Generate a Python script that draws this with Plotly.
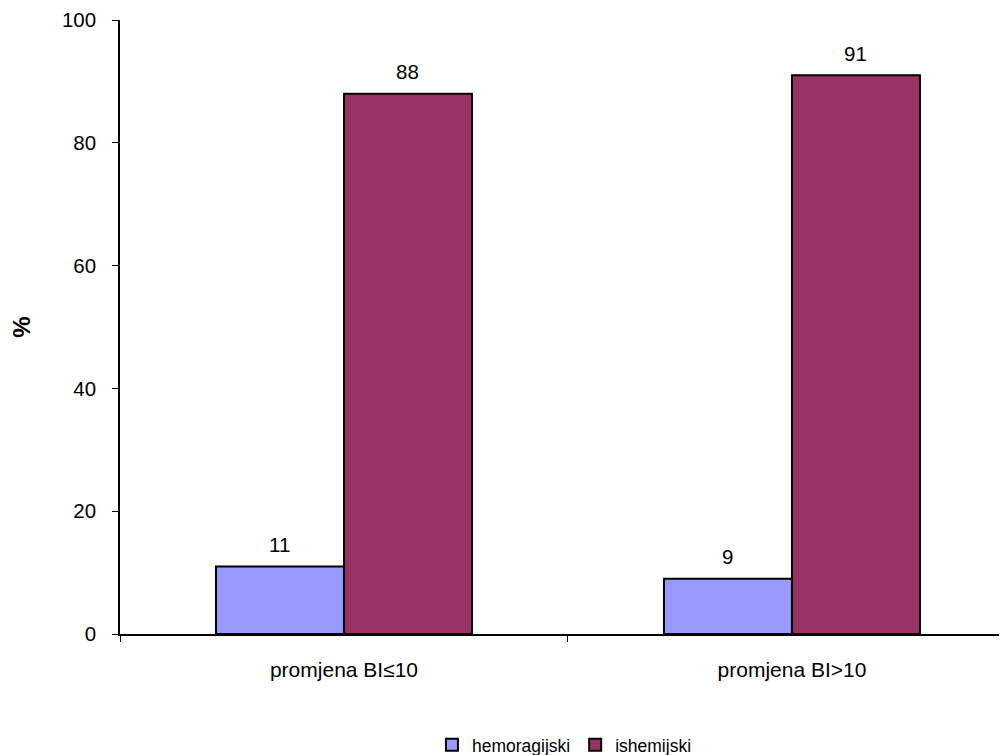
import plotly.graph_objects as go

categories = ["promjena BI≤10", "promjena BI>10"]
hemoragijski = [11, 9]
ishemijski = [88, 91]
y_ticks = [0, 20, 40, 60, 80, 100]

FAM = "Liberation Sans, Arial, sans-serif"
font = dict(family=FAM, size=20.5, color="black")

fig = go.Figure()
fig.add_trace(go.Bar(
    x=categories, y=hemoragijski, name="hemoragijski",
    marker=dict(color="#9999FF", line=dict(color="black", width=2)),
))
fig.add_trace(go.Bar(
    x=categories, y=ishemijski, name="ishemijski",
    marker=dict(color="#993366", line=dict(color="black", width=2)),
))

# value labels above bars
for vals, shift in ((hemoragijski, -64), (ishemijski, 64)):
    for c, v in zip(categories, vals):
        fig.add_annotation(x=c, y=v, text=str(v), showarrow=False,
                           xshift=shift, yshift=22, yanchor="middle",
                           font=font)

fig.update_layout(
    width=999, height=747,
    margin=dict(l=112, r=0, t=12, b=121),
    paper_bgcolor="white", plot_bgcolor="white",
    font=font,
    barmode="group", bargap=0.4286, bargroupgap=0,
    showlegend=True,
    legend=dict(orientation="h", xref="container", yref="container",
                x=0.557, y=0.0134, xanchor="center", yanchor="middle",
                font=dict(family=FAM, size=17.5, color="black"),
                traceorder="normal"),
)
fig.update_xaxes(
    type="category", range=[-0.5, 1.48],
    showline=True, linecolor="black", linewidth=1.5,
    ticks="outside", tickson="boundaries", ticklen=6, tickcolor="black",
    ticklabelstandoff=16, showgrid=False, zeroline=False,
    tickfont=dict(family=FAM, size=21, color="black"),
)
fig.update_yaxes(
    range=[0, 100], tickvals=y_ticks,
    showline=True, linecolor="black", linewidth=1.5,
    ticks="outside", ticklen=6, tickcolor="black",
    ticklabelstandoff=12, showgrid=False, zeroline=False,
    title=dict(text="<b>%</b>", standoff=38, font=dict(family=FAM, size=24, color="black")),
)

fig.write_html("out.html")
